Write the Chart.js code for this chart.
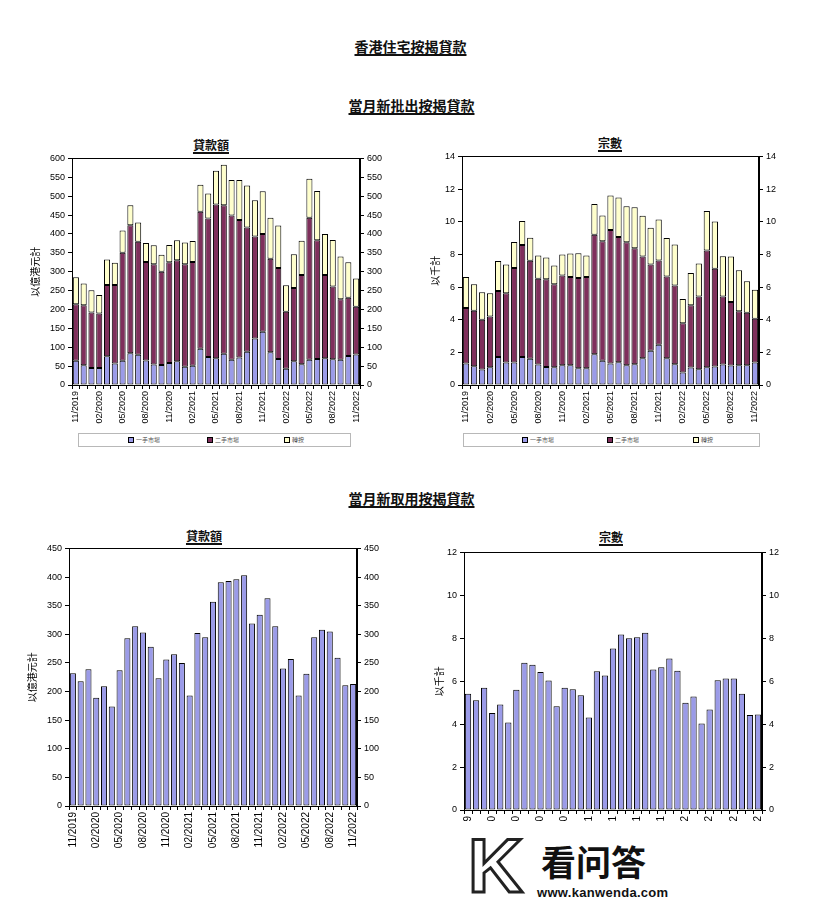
<!DOCTYPE html>
<html>
<head>
<meta charset="utf-8">
<script src="https://cdn.jsdelivr.net/npm/chart.js@4.4.1/dist/chart.umd.min.js"></script>
<style>
  html, body { margin:0; padding:0; background:#fff; }
  body { width:821px; height:905px; position:relative; overflow:hidden; font-family:"Noto Sans CJK TC", "Liberation Sans", sans-serif; }
  canvas { position:absolute; }
  .t { position:absolute; text-align:center; font-weight:bold; color:#111; white-space:nowrap; }
  .t span { text-decoration:underline; text-decoration-thickness:2px; text-underline-offset:2px; }
  .lg { position:absolute; border:1px solid #b8b8b8; box-sizing:border-box; }
  .li { position:absolute; top:3px; font-size:6px; line-height:6px; color:#555; white-space:nowrap; }
  .sw { display:inline-block; width:4px; height:4px; border:1px solid #000; vertical-align:top; margin-right:2px; }
  .wm { position:absolute; color:#111; white-space:nowrap; }
</style>
</head>
<body>

<div class="t" style="left:0;width:821px;top:36px;font-size:14px;line-height:20px;"><span>香港住宅按揭貸款</span></div>
<div class="t" style="left:0;width:823px;top:95px;font-size:14px;line-height:20px;"><span>當月新批出按揭貸款</span></div>
<div class="t" style="left:111px;width:200px;top:136px;font-size:12px;line-height:17px;"><span>貸款額</span></div>
<div class="t" style="left:510px;width:200px;top:134px;font-size:12px;line-height:17px;"><span>宗數</span></div>
<div class="t" style="left:0;width:823px;top:488px;font-size:14px;line-height:20px;"><span>當月新取用按揭貸款</span></div>
<div class="t" style="left:104px;width:200px;top:527px;font-size:12px;line-height:17px;"><span>貸款額</span></div>
<div class="t" style="left:511px;width:200px;top:528px;font-size:12px;line-height:17px;"><span>宗數</span></div>

<canvas id="cA" width="372" height="276" style="left:20px;top:150px;"></canvas>
<canvas id="cB" width="380" height="278" style="left:410px;top:148px;"></canvas>
<canvas id="cC" width="372" height="314" style="left:17px;top:540px;"></canvas>
<canvas id="cD" width="381" height="278" style="left:412px;top:544px;"></canvas>

<div class="lg" style="left:78px;top:433px;width:273px;height:14px;">
  <div class="li" style="left:49px;"><i class="sw" style="background:#9B9BE8"></i>一手市場</div>
  <div class="li" style="left:128px;"><i class="sw" style="background:#7F2F5C"></i>二手市場</div>
  <div class="li" style="left:205px;"><i class="sw" style="background:#FFFFCC"></i>轉按</div>
</div>
<div class="lg" style="left:463px;top:433px;width:297px;height:14px;">
  <div class="li" style="left:58px;"><i class="sw" style="background:#9B9BE8"></i>一手市場</div>
  <div class="li" style="left:143px;"><i class="sw" style="background:#7F2F5C"></i>二手市場</div>
  <div class="li" style="left:229px;"><i class="sw" style="background:#FFFFCC"></i>轉按</div>
</div>

<div class="wm" style="left:468px;top:826px;font-family:'Liberation Sans',sans-serif;font-size:76px;line-height:80px;font-weight:bold;color:#fff;-webkit-text-stroke:3px #222;">K</div>
<div class="wm" style="left:541px;top:840px;font-family:'Noto Sans CJK SC',sans-serif;font-size:35px;line-height:42px;font-weight:bold;">看问答</div>
<div class="wm" style="left:537px;top:885px;font-family:'Liberation Sans',sans-serif;font-size:13px;line-height:15px;font-weight:bold;letter-spacing:0.3px;">www.kanwenda.com</div>

<script>
// ---- data ----
const months = ['11/2019','12/2019','01/2020','02/2020','03/2020','04/2020','05/2020','06/2020','07/2020','08/2020','09/2020','10/2020','11/2020','12/2020','01/2021','02/2021','03/2021','04/2021','05/2021','06/2021','07/2021','08/2021','09/2021','10/2021','11/2021','12/2021','01/2022','02/2022','03/2022','04/2022','05/2022','06/2022','07/2022','08/2022','09/2022','10/2022','11/2022'];
const seriesNames = ['一手市場','二手市場','轉按'];

// New loans approved - amount (HK$100 million)
const approvedAmtPrimary   = [64,52,45,45,76,57,64,84,80,65,54,53,58,63,48,51,96,74,71,83,67,73,88,123,141,87,69,43,63,55,67,69,71,68,67,77,81];
const approvedAmtSecondary = [150,159,147,144,189,208,286,339,299,261,266,247,267,267,272,275,363,367,407,393,382,364,329,270,259,247,241,151,194,236,376,314,220,193,160,154,126];
const approvedAmtRefinance = [71,58,59,49,67,59,59,53,51,50,50,45,46,53,57,55,71,66,89,107,94,106,111,96,113,109,112,70,89,91,103,131,109,123,113,94,75];

// New loans approved - number of cases (thousands)
const approvedCntPrimary   = [1.31,1.15,0.95,1.09,1.72,1.38,1.38,1.72,1.60,1.25,1.11,1.09,1.21,1.21,1.03,1.03,1.88,1.48,1.31,1.40,1.21,1.27,1.64,2.10,2.47,1.64,1.27,0.77,1.07,0.97,1.09,1.13,1.25,1.19,1.21,1.21,1.38];
const approvedCntSecondary = [3.40,3.40,3.05,3.10,4.03,4.24,5.78,6.86,6.01,5.26,5.36,5.08,5.49,5.41,5.52,5.59,7.32,7.32,8.18,7.66,7.53,7.11,6.23,5.28,5.16,5.00,4.82,3.01,3.81,4.45,7.14,5.99,4.17,3.89,3.30,3.22,2.67];
const approvedCntRefinance = [1.91,1.62,1.68,1.43,1.84,1.76,1.60,1.47,1.41,1.42,1.34,1.15,1.29,1.43,1.52,1.31,1.89,1.58,2.12,2.43,2.20,2.50,2.49,2.25,2.51,2.36,2.51,1.48,1.98,2.02,2.43,2.89,2.47,2.79,2.51,1.92,1.78];

// New loans drawn down
const drawnAmt = [232,218,239,189,209,174,237,293,314,303,278,223,256,265,250,193,302,295,357,391,393,396,403,319,334,363,314,240,257,193,231,295,308,305,259,211,213];
const drawnCnt = [5.42,5.11,5.69,4.52,4.91,4.08,5.60,6.86,6.77,6.43,6.03,4.83,5.69,5.63,5.34,4.31,6.46,6.26,7.52,8.18,8.00,8.05,8.26,6.54,6.65,7.06,6.49,5.00,5.29,4.03,4.68,6.05,6.12,6.12,5.42,4.42,4.45];

// ---- styles ----
const C1 = '#9B9BE8', C2 = '#7F2F5C', C3 = '#FFFFCC';
const NUM_FONT = '"Liberation Sans", Arial, sans-serif';
const CJK_FONT = '"Noto Sans CJK TC", sans-serif';

const frame = {
  id: 'frame',
  afterDraw(chart) {
    const a = chart.chartArea, ctx = chart.ctx;
    ctx.save();
    ctx.strokeStyle = '#000';
    ctx.lineWidth = 1;
    ctx.strokeRect(Math.round(a.left) + 0.5, Math.round(a.top) + 0.5, Math.round(a.right - a.left) - 1, Math.round(a.bottom - a.top));
    ctx.restore();
  }
};

function ds(label, data, color) {
  return { label, data, backgroundColor: color, borderColor: '#000', borderWidth: 1, borderSkipped: false,
           barPercentage: 0.78, categoryPercentage: 1.0, yAxisID: 'y' };
}

function build(id, datasets, o) {
  const tickFont = { family: NUM_FONT, size: o.tickSize };
  new Chart(document.getElementById(id), {
    type: 'bar',
    data: { labels: months, datasets },
    plugins: [frame],
    options: {
      responsive: false, animation: false, devicePixelRatio: 1,
      layout: { padding: { top: 6, left: 0, right: 0, bottom: 0 } },
      plugins: { legend: { display: false }, tooltip: { enabled: false } },
      scales: {
        x: {
          stacked: o.stacked, offset: true,
          grid: { drawOnChartArea: false, tickLength: 4, color: '#000', offset: true },
          border: { color: '#000' },
          ticks: { autoSkip: false, maxRotation: 90, minRotation: 90, padding: 2, color: '#000',
                   font: { family: NUM_FONT, size: o.xSize },
                   callback: (v, i) => (i % 3 === 0 ? months[i] : '') },
          afterFit: s => { s.height = o.xH; }
        },
        y: {
          stacked: o.stacked, min: 0, max: o.max,
          grid: { drawOnChartArea: false, tickLength: 4, color: '#000' },
          border: { color: '#000' },
          ticks: { stepSize: o.step, padding: 3, color: '#000', font: tickFont },
          title: { display: true, text: o.yTitle, color: '#000', font: { family: CJK_FONT, size: o.titleSize },
                   padding: { top: o.titlePad, bottom: 0 } },
          afterFit: s => { s.width = o.leftW; }
        },
        y2: {
          position: 'right', min: 0, max: o.max,
          grid: { drawOnChartArea: false, tickLength: 4, color: '#000' },
          border: { color: '#000' },
          ticks: { stepSize: o.step, padding: 3, color: '#000', font: tickFont },
          afterFit: s => { s.width = o.rightW; }
        }
      }
    }
  });
}

build('cA', [
  ds(seriesNames[0], approvedAmtPrimary, C1),
  ds(seriesNames[1], approvedAmtSecondary, C2),
  ds(seriesNames[2], approvedAmtRefinance, C3)
], { stacked: true, max: 600, step: 50, yTitle: '以億港元計', titleSize: 10, titlePad: 9,
     tickSize: 9, xSize: 9, xH: 41, leftW: 52, rightW: 32 });

build('cB', [
  ds(seriesNames[0], approvedCntPrimary, C1),
  ds(seriesNames[1], approvedCntSecondary, C2),
  ds(seriesNames[2], approvedCntRefinance, C3)
], { stacked: true, max: 14, step: 2, yTitle: '以千計', titleSize: 10, titlePad: 19,
     tickSize: 9, xSize: 9, xH: 41, leftW: 52, rightW: 31 });

build('cC', [ ds('貸款額', drawnAmt, C1) ],
  { stacked: false, max: 450, step: 50, yTitle: '以億港元計', titleSize: 10, titlePad: 9,
    tickSize: 9, xSize: 10, xH: 48, leftW: 52, rightW: 32 });

build('cD', [ ds('宗數', drawnCnt, C1) ],
  { stacked: false, max: 12, step: 2, yTitle: '以千計', titleSize: 10, titlePad: 21,
    tickSize: 9, xSize: 10, xH: 12, leftW: 52, rightW: 31 });
</script>
</body>
</html>
